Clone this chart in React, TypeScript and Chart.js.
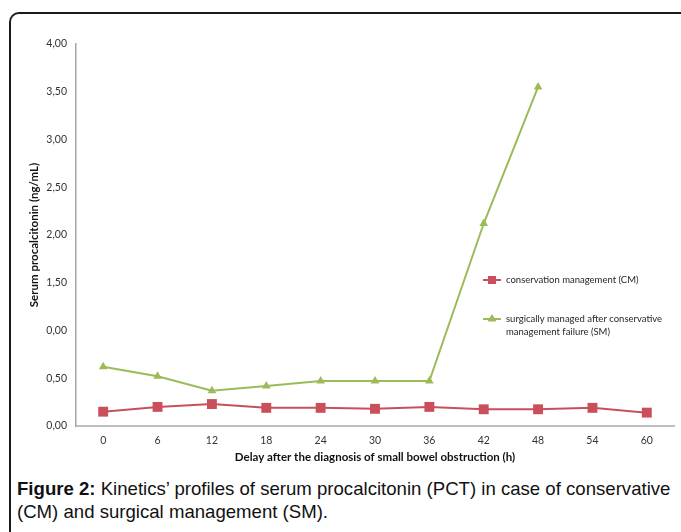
import React, { useEffect, useRef } from 'react';
import { Chart, registerables } from 'chart.js';

Chart.register(...registerables);

const hours = ['0', '6', '12', '18', '24', '30', '36', '42', '48', '54', '60'];
const cmValues = [0.15, 0.2, 0.23, 0.19, 0.19, 0.18, 0.2, 0.175, 0.175, 0.19, 0.14];
const smValues = [0.62, 0.52, 0.37, 0.42, 0.47, 0.47, 0.47, 2.12, 3.55, null, null];
const yTickLabels = ['0,00', '0,50', '0,00', '1,50', '2,00', '2,50', '3,00', '3,50', '4,00'];
const cmLegend = ['conservation management (CM)'];
const smLegend = ['surgically managed after conservative', 'management failure (SM)'];

const RED = '#C9505A';
const GREEN = '#9BBB59';
const FONT = 'Lato, "Open Sans", sans-serif';

const legendPlugin = {
  id: 'insideLegend',
  afterDraw(chart: any) {
    const { ctx } = chart;
    const entries = [
      { y: 280, color: RED, style: 'rect', text: cmLegend },
      { y: 319, color: GREEN, style: 'triangle', text: smLegend },
    ];
    ctx.save();
    ctx.font = `9.5px ${FONT}`;
    ctx.textBaseline = 'middle';
    ctx.textAlign = 'left';
    for (const e of entries) {
      ctx.strokeStyle = e.color;
      ctx.lineWidth = 2;
      ctx.beginPath();
      ctx.moveTo(483, e.y);
      ctx.lineTo(501, e.y);
      ctx.stroke();
      ctx.fillStyle = e.color;
      if (e.style === 'rect') {
        ctx.fillRect(488, e.y - 4, 8, 8);
      } else {
        ctx.beginPath();
        ctx.moveTo(492, e.y - 5);
        ctx.lineTo(496.5, e.y + 2.5);
        ctx.lineTo(487.5, e.y + 2.5);
        ctx.closePath();
        ctx.fill();
      }
      ctx.fillStyle = '#262626';
      e.text.forEach((t: string, i: number) => ctx.fillText(t, 506, e.y + i * 13));
    }
    ctx.restore();
  },
};

function App() {
  const ref = useRef<HTMLCanvasElement | null>(null);
  useEffect(() => {
    if (!ref.current) return;
    const chart = new Chart(ref.current, {
      type: 'line',
      data: {
        labels: hours,
        datasets: [
          {
            label: cmLegend[0],
            data: cmValues,
            borderColor: RED,
            backgroundColor: RED,
            borderWidth: 2,
            pointStyle: 'rect',
            pointRadius: 7,
            pointBorderWidth: 0,
            tension: 0,
          },
          {
            label: smLegend.join(' '),
            data: smValues,
            borderColor: GREEN,
            backgroundColor: GREEN,
            borderWidth: 2,
            pointStyle: 'triangle',
            pointRadius: 5,
            pointBorderWidth: 0,
            tension: 0,
          },
        ],
      },
      options: {
        responsive: false,
        animation: false,
        devicePixelRatio: 1,
        layout: { padding: { left: 0, right: 7, top: 44, bottom: 0 } },
        plugins: {
          legend: { display: false },
          tooltip: { enabled: false },
        },
        scales: {
          x: {
            offset: true,
            grid: { display: false, drawTicks: false },
            border: { display: true, color: '#BFBFBF', width: 2 },
            ticks: { color: '#333333', font: { family: FONT, size: 10.5 }, padding: 8, maxRotation: 0 },
            title: {
              display: true,
              text: 'Delay after the diagnosis of small bowel obstruction (h)',
              color: '#111111',
              font: { family: FONT, size: 11.5, weight: 'bold' },
              padding: { top: 0, bottom: 6 },
            },
            afterFit: (s: any) => { s.height = 44; },
          },
          y: {
            min: 0,
            max: 4,
            grid: { display: false, drawTicks: false },
            border: { display: true, color: '#A6A6A6', width: 1.5 },
            ticks: {
              stepSize: 0.5,
              color: '#333333',
              font: { family: FONT, size: 10.5 },
              padding: 9,
              callback: (_v: any, i: number) => yTickLabels[i],
            },
            title: {
              display: true,
              text: 'Serum procalcitonin (ng/mL)',
              color: '#111111',
              font: { family: FONT, size: 11.5, weight: 'bold' },
              padding: { top: 27, bottom: 0 },
            },
            afterFit: (s: any) => { s.width = 76; },
          },
        },
      },
      plugins: [legendPlugin],
    });
    return () => chart.destroy();
  }, []);

  return (
    <div style={{ position: 'absolute', left: 0, top: 0, width: 681, height: 532, overflow: 'hidden', background: '#fff' }}>
      <div
        style={{
          position: 'absolute',
          left: 9,
          top: 12,
          width: 800,
          height: 700,
          borderTop: '2px solid #1a1a1a',
          borderLeft: '2px solid #1a1a1a',
          borderTopLeftRadius: 10,
        }}
      />
      <canvas ref={ref} width={681} height={470} style={{ position: 'absolute', left: 0, top: 0, width: 681, height: 470 }} />
      <div
        style={{
          position: 'absolute',
          left: 17,
          top: 477,
          fontFamily: '"Liberation Sans", Arial, sans-serif',
          fontSize: 18.6,
          lineHeight: '23px',
          color: '#111',
          whiteSpace: 'nowrap',
        }}
      >
        <b>Figure 2:</b> Kinetics’ profiles of serum procalcitonin (PCT) in case of conservative
        <br />
        (CM) and surgical management (SM).
      </div>
    </div>
  );
}

export default App;
